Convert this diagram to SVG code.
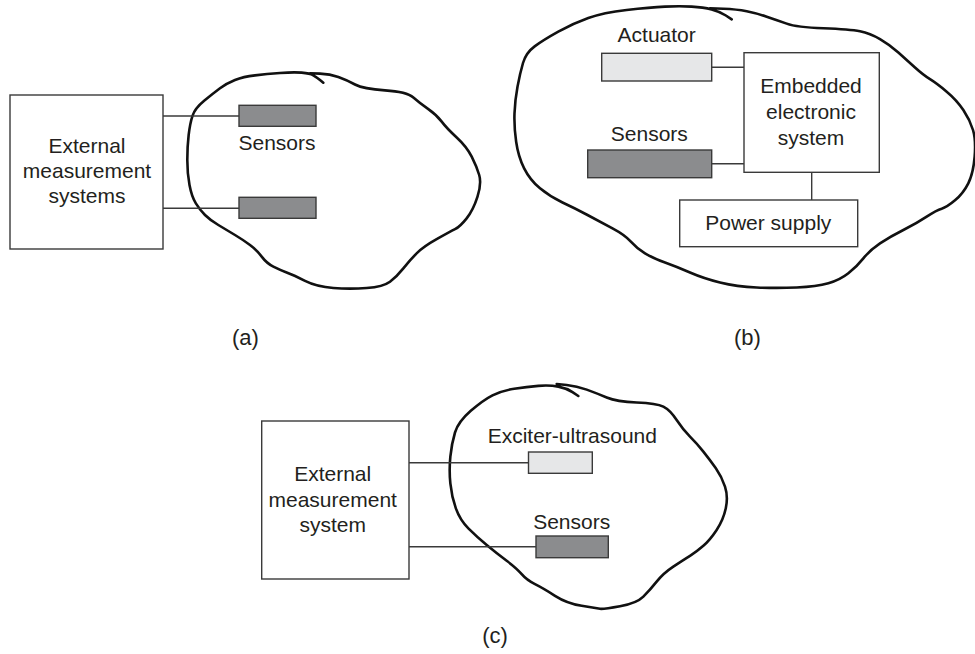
<svg xmlns="http://www.w3.org/2000/svg" width="975" height="654" viewBox="0 0 975 654">
<style>
.bg{fill:#ffffff}
.box{fill:#ffffff;stroke:#3a3a3a;stroke-width:1.4}
.sensor{fill:#8b8c8e;stroke:#3a3a3a;stroke-width:1.4}
.act{fill:#e6e7e8;stroke:#3a3a3a;stroke-width:1.4}
.blob{fill:none;stroke:#111111;stroke-width:2.6;stroke-linejoin:round;stroke-linecap:round}
.wire{fill:none;stroke:#3a3a3a;stroke-width:1.4}
text{font-family:"Liberation Sans",Arial,sans-serif;font-size:21px;fill:#231f20;text-anchor:middle}
.lbl{font-size:22px}
</style>
<rect class="bg" x="0" y="0" width="975" height="654"/>

<g id="blob-a">
<path class="blob" d="M323.3,82.7 L320,80 Q316.7,77.3 313.35,75.3 Q310,73.3 301.65,72.65 Q293.3,72 280,73 Q266.7,74 255,75.35 Q243.3,76.7 235,80 Q226.7,83.3 220,88.3 Q213.3,93.3 204.15,100.8 Q195,108.3 192.5,115.8 Q190,123.3 188.65,135 Q187.3,146.7 187.3,160 Q187.3,173.3 189.5,185 Q191.7,196.7 195.85,203.35 Q200,210 205,215 Q210,220 218.35,225 Q226.7,230 235,235 Q243.3,240 250,245 Q256.7,250 261.7,256.65 Q266.7,263.3 273.35,266.65 Q280,270 286.65,272.5 Q293.3,275 305,280.85 Q316.7,286.7 333.35,288 Q350,289.3 366.65,288 Q383.3,286.7 390,281.7 Q396.7,276.7 403.35,268.35 Q410,260 416.65,253.35 Q423.3,246.7 436.65,239.2 Q450,231.7 455,229.2 Q460,226.7 466.65,218.35 Q473.3,210 477.5,196.65 Q481.7,183.3 479.2,175 Q476.7,166.7 471.7,156.7 Q466.7,146.7 456.7,137.5 Q446.7,128.3 441.7,121.65 Q436.7,115 428.35,109.15 Q420,103.3 413.35,97.5 Q406.7,91.7 385,90.35 Q363.3,89 355,84.5 Q346.7,80 338.35,77 Q330,74 320,73.65 L310,73.3"/>
</g>
<g id="blob-b">
<path class="blob" d="M731.7,19.3 L725.85,15.5 Q720,11.7 711.65,9.5 Q703.3,7.3 691.65,6.65 Q680,6 665,6.65 Q650,7.3 626.65,10 Q603.3,12.7 588.3,18 Q573.3,23.3 558.3,31.65 Q543.3,40 534.65,46.35 Q526,52.7 523,63 Q520,73.3 517.5,86.65 Q515,100 514.5,113.35 Q514,126.7 516.15,141.7 Q518.3,156.7 524.15,168.35 Q530,180 540,188.35 Q550,196.7 562.5,202.5 Q575,208.3 587.5,215 Q600,221.7 612.5,228.35 Q625,235 630.85,241.65 Q636.7,248.3 645,253.3 Q653.3,258.3 665,262.5 Q676.7,266.7 690,272.5 Q703.3,278.3 720,282.5 Q736.7,286.7 756.7,287.5 Q776.7,288.3 796.7,287.5 Q816.7,286.7 828.35,283.35 Q840,280 848.35,273.35 Q856.7,266.7 863.35,258.35 Q870,250 880,243.35 Q890,236.7 903.35,230 Q916.7,223.3 926.7,216.65 Q936.7,210 941.7,208.65 Q946.7,207.3 955,200.3 Q963.3,193.3 968.3,183.3 Q973.3,173.3 974.65,156.65 Q976,140 973,130 Q970,120 963.35,110 Q956.7,100 946.7,91.65 Q936.7,83.3 930,79.15 Q923.3,75 915,67.5 Q906.7,60 898.35,52.5 Q890,45 880,39.15 Q870,33.3 860,31.3 Q850,29.3 823.35,28.3 Q796.7,27.3 786.7,23.65 Q776.7,20 766.7,16.65 Q756.7,13.3 746.7,11.3 Q736.7,9.3 723.35,8.8 L710,8.3"/>
</g>
<g id="blob-c">
<path class="blob" d="M578.3,396 L572.5,392.15 Q566.7,388.3 558.35,386.65 Q550,385 538.35,385.85 Q526.7,386.7 514.2,388.7 Q501.7,390.7 492.5,395.35 Q483.3,400 470.8,410.85 Q458.3,421.7 455,432.5 Q451.7,443.3 450.35,456.65 Q449,470 450.35,483.35 Q451.7,496.7 455.85,508.35 Q460,520 468.35,528.35 Q476.7,536.7 486.7,545 Q496.7,553.3 506.7,560.8 Q516.7,568.3 521.7,574.15 Q526.7,580 535,584.15 Q543.3,588.3 555,595.8 Q566.7,603.3 581.7,605.8 Q596.7,608.3 600,608.8 Q603.3,609.3 620,606.3 Q636.7,603.3 643.35,596.65 Q650,590 656.65,581.65 Q663.3,573.3 673.3,566.65 Q683.3,560 690,555.85 Q696.7,551.7 703.35,545.85 Q710,540 716.65,530 Q723.3,520 725.8,508.35 Q728.3,496.7 725,486.7 Q721.7,476.7 715.85,468.35 Q710,460 703.35,451.65 Q696.7,443.3 690,436.65 Q683.3,430 676.65,420 Q670,410 663.35,406.65 Q656.7,403.3 636.7,402.5 Q616.7,401.7 606.7,397.5 Q596.7,393.3 586.7,389.65 Q576.7,386 566.7,385 L556.7,384"/>
</g>

<g id="connectors">
<line class="wire" x1="163" y1="116" x2="239" y2="116"/>
<line class="wire" x1="163" y1="208.3" x2="239" y2="208.3"/>
<line class="wire" x1="711.7" y1="67.3" x2="744" y2="67.3"/>
<line class="wire" x1="711.7" y1="163.7" x2="744" y2="163.7"/>
<line class="wire" x1="811.7" y1="172.3" x2="811.7" y2="200"/>
<line class="wire" x1="409" y1="462.7" x2="528.5" y2="462.7"/>
<line class="wire" x1="409" y1="546.7" x2="536" y2="546.7"/>
</g>

<g id="a-external">
<rect class="box" x="10" y="95" width="153" height="154"/>
<text x="87" y="153">External</text>
<text x="87" y="178">measurement</text>
<text x="87" y="203">systems</text>
</g>
<g id="a-sensor1">
<rect class="sensor" x="239" y="105.3" width="77" height="21"/>
<text x="277" y="150">Sensors</text>
</g>
<g id="a-sensor2">
<rect class="sensor" x="239" y="197.3" width="77" height="21"/>
</g>
<g id="a-label"><text class="lbl" x="245.5" y="345">(a)</text></g>

<g id="b-actuator">
<rect class="act" x="601.7" y="53.3" width="110" height="27.7"/>
<text x="656.7" y="41.7">Actuator</text>
</g>
<g id="b-sensors">
<rect class="sensor" x="587.7" y="150" width="124" height="27.7"/>
<text x="649.3" y="140.7">Sensors</text>
</g>
<g id="b-embedded">
<rect class="box" x="744" y="52.7" width="135.3" height="119.6"/>
<text x="811" y="93.3">Embedded</text>
<text x="811" y="119.3">electronic</text>
<text x="811" y="145">system</text>
</g>
<g id="b-power">
<rect class="box" x="679.7" y="200" width="178" height="46.7"/>
<text x="768.3" y="230">Power supply</text>
</g>
<g id="b-label"><text class="lbl" x="747.5" y="345">(b)</text></g>

<g id="c-external">
<rect class="box" x="261.7" y="421" width="147.3" height="158"/>
<text x="332.7" y="481">External</text>
<text x="332.7" y="507">measurement</text>
<text x="332.7" y="532">system</text>
</g>
<g id="c-exciter">
<rect class="act" x="528.5" y="452" width="63.8" height="21.3"/>
<text x="572.3" y="442.7">Exciter-ultrasound</text>
</g>
<g id="c-sensors">
<rect class="sensor" x="536" y="536" width="72.3" height="21.7"/>
<text x="571.7" y="529.3">Sensors</text>
</g>
<g id="c-label"><text class="lbl" x="495" y="643">(c)</text></g>
</svg>
